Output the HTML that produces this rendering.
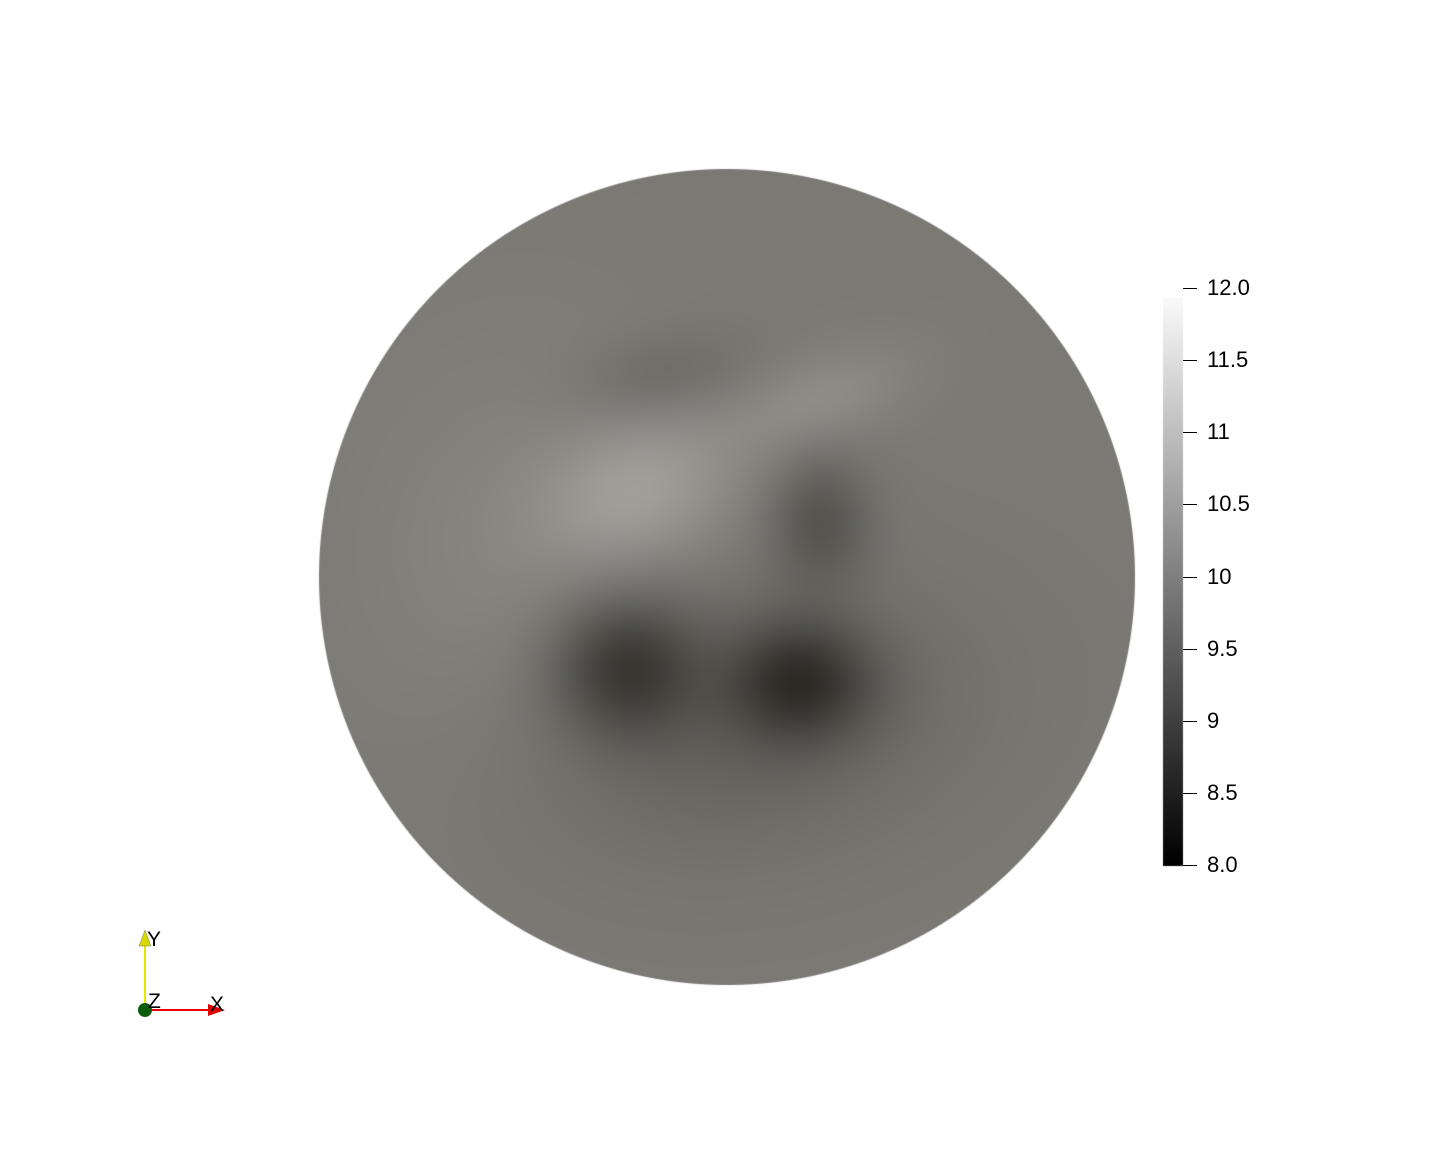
<!DOCTYPE html>
<html><head><meta charset="utf-8">
<style>
html,body{margin:0;padding:0;background:#fff;}
#wrap{position:relative;width:1454px;height:1155px;overflow:hidden;font-family:"Liberation Sans","DejaVu Sans",sans-serif;}
canvas{position:absolute;left:0;top:0;}
.tick{position:absolute;left:1183px;width:14px;height:1px;background:#000;}
.lbl{position:absolute;left:1207px;font-size:22px;color:#000;line-height:22px;}
</style></head>
<body>
<div id="wrap">
<canvas id="c" width="1454" height="1155"></canvas>
<div id="bar"></div>
<svg width="1454" height="1155" style="position:absolute;left:0;top:0">
  <line x1="145" y1="1010" x2="145" y2="942" stroke="#e6e600" stroke-width="2"/>
  <polygon points="139,946 145,930 151,946" fill="#d8d800" stroke="#777" stroke-width="0.5"/>
  <line x1="145" y1="1010" x2="212" y2="1010" stroke="#e00" stroke-width="2"/>
  <polygon points="208,1004 225,1010 208,1016" fill="#e00000"/>
  <circle cx="145" cy="1010" r="7" fill="#0a5c0a"/>
  <text x="147" y="946" font-size="21" font-family="Liberation Sans,sans-serif">Y</text>
  <text x="210" y="1011" font-size="21" font-family="Liberation Sans,sans-serif">X</text>
  <text x="148" y="1008" font-size="21" font-family="Liberation Sans,sans-serif">Z</text>
</svg>
</div>
<script>
// field data
const baseValue = 9.9;
const blobX = [640, 820, 520, 625, 800, 820, 660, 740];
const blobY = [490, 400, 560, 665, 680, 520, 375, 720];
const blobAmp = [0.5, 0.3, 0.18, -0.9, -0.9, -0.55, -0.25, -0.4];
const blobSx = [70, 65, 120, 50, 50, 35, 60, 150];
const blobSy = [50, 32, 150, 48, 42, 45, 28, 90];
const blobAng = [-20, -20, 0, 0, 0, 0, -10, -10];
// color legend data
const tickValues = [12.0, 11.5, 11, 10.5, 10, 9.5, 9, 8.5, 8.0];
const tickLabels = ["12.0", "11.5", "11", "10.5", "10", "9.5", "9", "8.5", "8.0"];
const vMin = 8, vMax = 12;

const cx = 727, cy = 577, R = 408;
const barTop = 288, barBot = 865;
function yOf(v){ return barBot - (v - vMin) / (vMax - vMin) * (barBot - barTop); }
function gray(v){ return Math.max(0, Math.min(255, (v - vMin) / (vMax - vMin) * 255)); }

const ctx = document.getElementById('c').getContext('2d');
const img = ctx.createImageData(1454, 1155);
const cs = blobAng.map(a => Math.cos(a*Math.PI/180)), sn = blobAng.map(a => Math.sin(a*Math.PI/180));
for (let y = cy - R - 1; y <= cy + R + 1; y++) {
  for (let x = cx - R - 1; x <= cx + R + 1; x++) {
    const d = Math.hypot(x + 0.5 - cx, y + 0.5 - cy);
    if (d > R + 0.5) continue;
    let v = baseValue;
    for (let i = 0; i < blobX.length; i++) {
      const dx = x - blobX[i], dy = y - blobY[i];
      const u = dx*cs[i] + dy*sn[i], w = -dx*sn[i] + dy*cs[i];
      v += blobAmp[i] * Math.exp(-(u*u/(2*blobSx[i]*blobSx[i]) + w*w/(2*blobSy[i]*blobSy[i])));
    }
    const g = gray(v);
    const a = Math.min(1, R + 0.5 - d);
    const k = (y*1454 + x)*4;
    img.data[k] = 255*(1-a) + (g+1)*a;
    img.data[k+1] = 255*(1-a) + g*a;
    img.data[k+2] = 255*(1-a) + (g-5)*a;
    img.data[k+3] = 255;
  }
}
for (let k = 0; k < img.data.length; k += 4) if (img.data[k+3] === 0) { img.data[k]=img.data[k+1]=img.data[k+2]=img.data[k+3]=255; }
ctx.putImageData(img, 0, 0);
const grd = ctx.createLinearGradient(0, barBot, 0, barTop + 10);
grd.addColorStop(0, '#000'); grd.addColorStop(1, '#fafafa');
ctx.fillStyle = grd;
ctx.fillRect(1163, barTop + 10, 20, barBot - barTop - 9);

const bar = document.getElementById('bar');
tickValues.forEach((v, i) => {
  const t = document.createElement('div');
  t.className = 'tick';
  t.style.top = Math.round(yOf(v)) + 'px';
  
  
  bar.appendChild(t);
  const l = document.createElement('div');
  l.className = 'lbl';
  l.textContent = tickLabels[i];
  l.style.top = Math.round(yOf(v) - 11) + 'px';
  
  
  bar.appendChild(l);
});
</script>
</body></html>
